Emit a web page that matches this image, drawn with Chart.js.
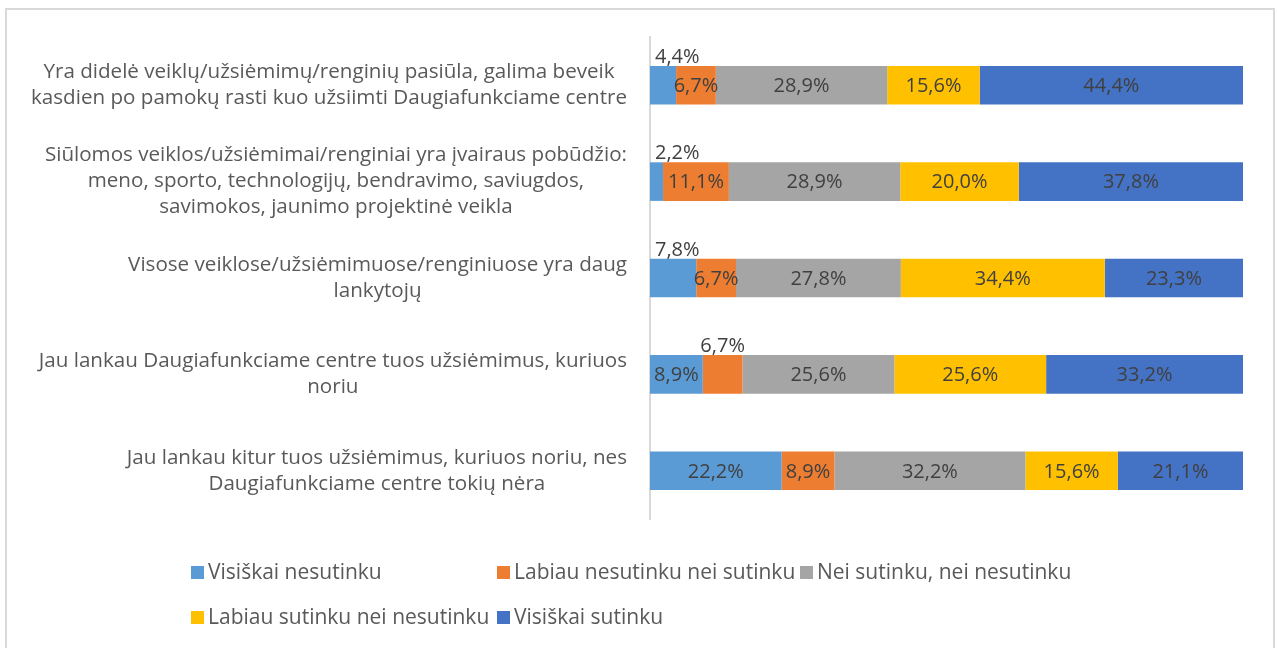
<!DOCTYPE html>
<html>
<head>
<meta charset="utf-8">
<script src="https://cdn.jsdelivr.net/npm/chart.js@4/dist/chart.umd.min.js"></script>
<style>
  body { margin: 0; background: #fff; }
  #wrap { position: relative; width: 1278px; height: 648px; overflow: hidden; }
  #frame { position: absolute; left: 5px; top: 8px; width: 1266px; height: 700px; border: 2px solid #d9d9d9; }
  #chart { position: absolute; left: 0; top: 0; }
  .leg { position: absolute; font-family: "Open Sans", Lato, sans-serif; font-size: 21px; color: #595959; white-space: nowrap; line-height: 24px; }
  .leg span { display: inline-block; width: 13px; height: 13px; margin-right: 4px; vertical-align: 0px; }
</style>
</head>
<body>
<div id="wrap">
  <div id="frame"></div>
  <canvas id="chart" width="1278" height="648"></canvas>
</div>
<script>
const categories = [
  ["Yra didelė veiklų/užsiėmimų/renginių pasiūla, galima beveik", "kasdien po pamokų rasti kuo užsiimti Daugiafunkciame centre"],
  ["Siūlomos veiklos/užsiėmimai/renginiai yra įvairaus pobūdžio:", "meno, sporto, technologijų, bendravimo, saviugdos,", "savimokos, jaunimo projektinė veikla"],
  ["Visose veiklose/užsiėmimuose/renginiuose yra daug", "lankytojų"],
  ["Jau lankau Daugiafunkciame centre tuos užsiėmimus, kuriuos", "noriu"],
  ["Jau lankau kitur tuos užsiėmimus, kuriuos noriu, nes", "Daugiafunkciame centre tokių nėra"],
];

const seriesNames = [
  "Visiškai nesutinku",
  "Labiau nesutinku nei sutinku",
  "Nei sutinku, nei nesutinku",
  "Labiau sutinku nei nesutinku",
  "Visiškai sutinku",
];

const visiskaiNesutinku = [4.4, 2.2, 7.8, 8.9, 22.2];
const labiauNesutinku = [6.7, 11.1, 6.7, 6.7, 8.9];
const neiSutinku = [28.9, 28.9, 27.8, 25.6, 32.2];
const labiauSutinku = [15.6, 20.0, 34.4, 25.6, 15.6];
const visiskaiSutinku = [44.4, 37.8, 23.3, 33.2, 21.1];

const seriesValues = [visiskaiNesutinku, labiauNesutinku, neiSutinku, labiauSutinku, visiskaiSutinku];
const colors = ["#5B9BD5", "#ED7D31", "#A5A5A5", "#FFC000", "#4472C4"];

// labels Excel moved above the bar: [row, dataset]
const labelsAbove = [[0, 0], [1, 0], [2, 0], [3, 1]];

const FONT = '"Open Sans", Lato, sans-serif';
const AXIS_X = 650;

function fmt(v) {
  return v.toFixed(1).replace(".", ",") + "%";
}

const categoryLabels = {
  id: "categoryLabels",
  afterDraw(chart) {
    const ctx = chart.ctx;
    const yScale = chart.scales.y;
    ctx.save();
    ctx.font = "20.6px " + FONT;
    ctx.fillStyle = "#595959";
    ctx.textAlign = "center";
    ctx.textBaseline = "middle";
    categories.forEach((lines, i) => {
      const w = Math.max(...lines.map((l) => ctx.measureText(l).width));
      const cx = AXIS_X - 23 - w / 2;
      const cy = yScale.getPixelForTick(i);
      lines.forEach((line, j) => {
        ctx.fillText(line, cx, cy + (j - (lines.length - 1) / 2) * 26);
      });
    });
    ctx.restore();
  },
};

const barLabels = {
  id: "barLabels",
  afterDatasetsDraw(chart) {
    const ctx = chart.ctx;
    ctx.save();
    ctx.font = "20px " + FONT;
    ctx.fillStyle = "#404040";
    chart.data.datasets.forEach((ds, di) => {
      const meta = chart.getDatasetMeta(di);
      meta.data.forEach((bar, i) => {
        const text = fmt(ds.data[i]);
        const left = Math.min(bar.x, bar.base);
        const right = Math.max(bar.x, bar.base);
        let cx = (left + right) / 2;
        const above = labelsAbove.some((p) => p[0] === i && p[1] === di);
        ctx.textAlign = "center";
        if (above) {
          const w = ctx.measureText(text).width;
          cx = Math.max(cx, AXIS_X + 5 + w / 2);
          ctx.textBaseline = "alphabetic";
          ctx.fillText(text, cx, bar.y - bar.height / 2 - 3);
        } else {
          ctx.textBaseline = "middle";
          ctx.fillText(text, cx, bar.y + 1);
        }
      });
    });
    ctx.restore();
  },
};

const ctx = document.getElementById("chart").getContext("2d");

new Chart(ctx, {
  type: "bar",
  data: {
    labels: categories.map((c) => c.join(" ")),
    datasets: seriesValues.map((vals, i) => ({
      label: seriesNames[i],
      data: vals,
      backgroundColor: colors[i],
      borderWidth: 0,
      barPercentage: 0.4,
      categoryPercentage: 1,
    })),
  },
  options: {
    indexAxis: "y",
    responsive: false,
    animation: false,
    layout: {
      padding: { top: 37, right: 35, bottom: 129, left: 0 },
    },
    scales: {
      x: {
        stacked: true,
        min: 0,
        max: 100,
        display: false,
      },
      y: {
        stacked: true,
        grid: { display: false },
        border: { color: "#d9d9d9", width: 2 },
        ticks: { display: false },
        afterFit(scale) {
          scale.width = AXIS_X;
        },
      },
    },
    plugins: {
      legend: { display: false },
      tooltip: { enabled: false },
    },
  },
  plugins: [categoryLabels, barLabels],
});

// legend laid out in Excel-like columns
const legendSpots = [[191, 559], [497, 559], [800, 559], [191, 604], [497, 604]];
const wrap = document.getElementById("wrap");
seriesNames.forEach((name, i) => {
  const el = document.createElement("div");
  el.className = "leg";
  el.style.left = legendSpots[i][0] + "px";
  el.style.top = legendSpots[i][1] + "px";
  el.innerHTML = '<span style="background:' + colors[i] + '"></span>' + name;
  wrap.appendChild(el);
});
</script>
</body>
</html>
